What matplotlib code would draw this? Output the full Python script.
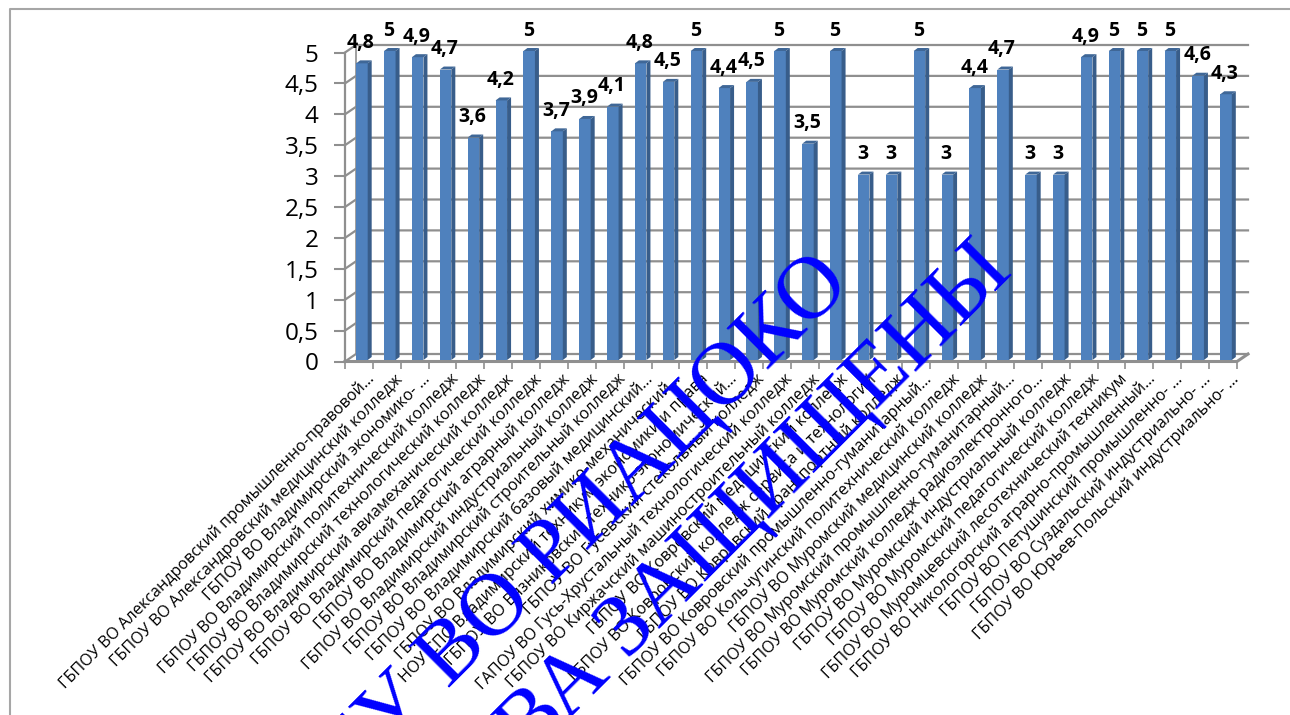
import matplotlib
matplotlib.use("Agg")
import matplotlib.pyplot as plt
from matplotlib.transforms import ScaledTranslation

colleges = [
    "ГБПОУ ВО Александровский промышленно-правовой...",
    "ГБПОУ ВО Александровский медицинский колледж",
    "ГБПОУ ВО Владимирский экономико- ...",
    "ГБПОУ ВО Владимирский политехнический колледж",
    "ГБПОУ ВО Владимирский технологический колледж",
    "ГБПОУ ВО Владимирский авиамеханический колледж",
    "ГБПОУ ВО Владимирский педагогический колледж",
    "ГБПОУ ВО Владимирский аграрный колледж",
    "ГБПОУ ВО Владимирский индустриальный колледж",
    "ГБПОУ ВО Владимирский строительный колледж",
    "ГБПОУ ВО Владимирский базовый медицинский...",
    "ГБПОУ ВО Владимирский химико-механический...",
    "НОУ СПО Владимирский техникум экономики и права",
    "ГБПОУ ВО Вязниковский технико-экономический...",
    "ГБПОУ ВО Гусевский стекольный колледж",
    "ГАПОУ ВО Гусь-Хрустальный технологический колледж",
    "ГБПОУ ВО Киржачский машиностроительный колледж",
    "ГБПОУ ВО Ковровский медицинский колледж",
    "ГБПОУ ВО Ковровский колледж сервиса и технологий",
    "ГБПОУ ВО Ковровский транспортный колледж",
    "ГБПОУ ВО Ковровский промышленно-гуманитарный...",
    "ГБПОУ ВО Кольчугинский политехнический колледж",
    "ГБПОУ ВО Муромский медицинский колледж",
    "ГБПОУ ВО Муромский промышленно-гуманитарный...",
    "ГБПОУ ВО Муромский колледж радиоэлектронного...",
    "ГБПОУ ВО Муромский индустриальный колледж",
    "ГБПОУ ВО Муромский педагогический колледж",
    "ГБПОУ ВО Муромцевский лесотехнический техникум",
    "ГБПОУ ВО Никологорский аграрно-промышленный...",
    "ГБПОУ ВО Петушинский промышленно- ...",
    "ГБПОУ ВО Суздальский индустриально- ...",
    "ГБПОУ ВО Юрьев-Польский индустриально- ...",
]
scores = [4.8, 5, 4.9, 4.7, 3.6, 4.2, 5, 3.7, 3.9, 4.1, 4.8, 4.5, 5, 4.4, 4.5, 5,
          3.5, 5, 3, 3, 5, 3, 4.4, 4.7, 3, 3, 4.9, 5, 5, 5, 4.6, 4.3]
y_ticks = [0, 0.5, 1, 1.5, 2, 2.5, 3, 3.5, 4, 4.5, 5]
y_labels = ["0", "0,5", "1", "1,5", "2", "2,5", "3", "3,5", "4", "4,5", "5"]

W, H = 1290, 715
FONT = "Open Sans"
GRID = "#8f8f8f"

fig = plt.figure(figsize=(W / 100, H / 100), dpi=100)
ax = fig.add_axes([345 / W, (H - 361.5) / H, 892 / W, 309 / H])
ax.set_xlim(0, len(scores))
ax.set_ylim(0, 5)
ax.patch.set_visible(False)
for s in ax.spines.values():
    s.set_visible(False)

# pixel sizes turned into data units for the fake 3d look
px_x = len(scores) / 892
px_y = 5 / 309
depth_x = 11 * px_x
depth_y = 7.5 * px_y

# walls and floor
for t in y_ticks:
    ax.plot([0, depth_x, len(scores) + depth_x], [t, t + depth_y, t + depth_y],
            color=GRID, lw=1.6, clip_on=False, zorder=1)
ax.plot([0, 0], [0, 5], color=GRID, lw=1.6, clip_on=False, zorder=1)
ax.plot([depth_x, depth_x], [depth_y, 5 + depth_y], color=GRID, lw=1.2, clip_on=False, zorder=1)
ax.plot([0, len(scores), len(scores) + depth_x], [0, 0, depth_y], color=GRID, lw=2.2,
        clip_on=False, zorder=2)

# bars: front, side and top faces
centers = [i + 0.5 for i in range(len(scores))]
bar_w = 11.5 * px_x
side_x = 4 * px_x
side_y = 3 * px_y
lift = 1.5 * px_y
for c, v in zip(centers, scores):
    left = c - bar_w / 2 + 3 * px_x
    right = left + bar_w
    ax.bar(left, v, bottom=lift, width=bar_w, align="edge", color="#4f81bd", zorder=3, clip_on=False)
    ax.fill([right, right + side_x, right + side_x, right],
            [lift, lift + side_y, lift + v + side_y, lift + v],
            color="#385d8a", lw=0, zorder=3, clip_on=False)
    ax.fill([left, left + side_x, right + side_x, right],
            [lift + v, lift + v + side_y, lift + v + side_y, lift + v],
            color="#3f6797", lw=0, zorder=3, clip_on=False)
    ax.text(c + 2 * px_x, v + 22 * px_y, str(v).replace(".", ","), ha="center", va="center",
            fontsize=14, fontweight="bold", family=FONT, color="black", zorder=4)

# axes ticks
ax.set_yticks(y_ticks, y_labels, fontsize=17.5, family=FONT)
ax.tick_params(axis="y", length=8, width=1.5, color=GRID, pad=11)
ax.set_xticks(range(len(scores) + 1), [""] * (len(scores) + 1))
ax.tick_params(axis="x", which="major", length=5, width=1.2, color=GRID)
ax.set_xticks(centers, colleges, minor=True, rotation=45, ha="right", va="center",
              rotation_mode="anchor", fontsize=11.6, family=FONT)
ax.tick_params(axis="x", which="minor", length=0, pad=11)
shift = ScaledTranslation(13 / 100, 0, fig.dpi_scale_trans)
for lab in ax.get_xticklabels(minor=True):
    lab.set_transform(lab.get_transform() + shift)

# outer frame of the slide picture
fig.add_artist(plt.Line2D([10 / W, 10 / W, 1], [0, (H - 8.5) / H, (H - 8.5) / H],
                          color="#a6a6a6", lw=1.5))

# watermark over everything
fig.text(852 / W, (H - 285) / H, "ГБУ ВО РИАЦОКО", family="Liberation Serif", fontsize=64,
         color="#0000ff", rotation=45, rotation_mode="anchor", ha="right", va="baseline", zorder=10)
fig.text(1014 / W, (H - 273) / H, "ПРАВА ЗАЩИЩЕНЫ", family="Liberation Serif", fontsize=64,
         color="#0000ff", rotation=45, rotation_mode="anchor", ha="right", va="baseline", zorder=10)

fig.savefig("out.png", dpi=100)
